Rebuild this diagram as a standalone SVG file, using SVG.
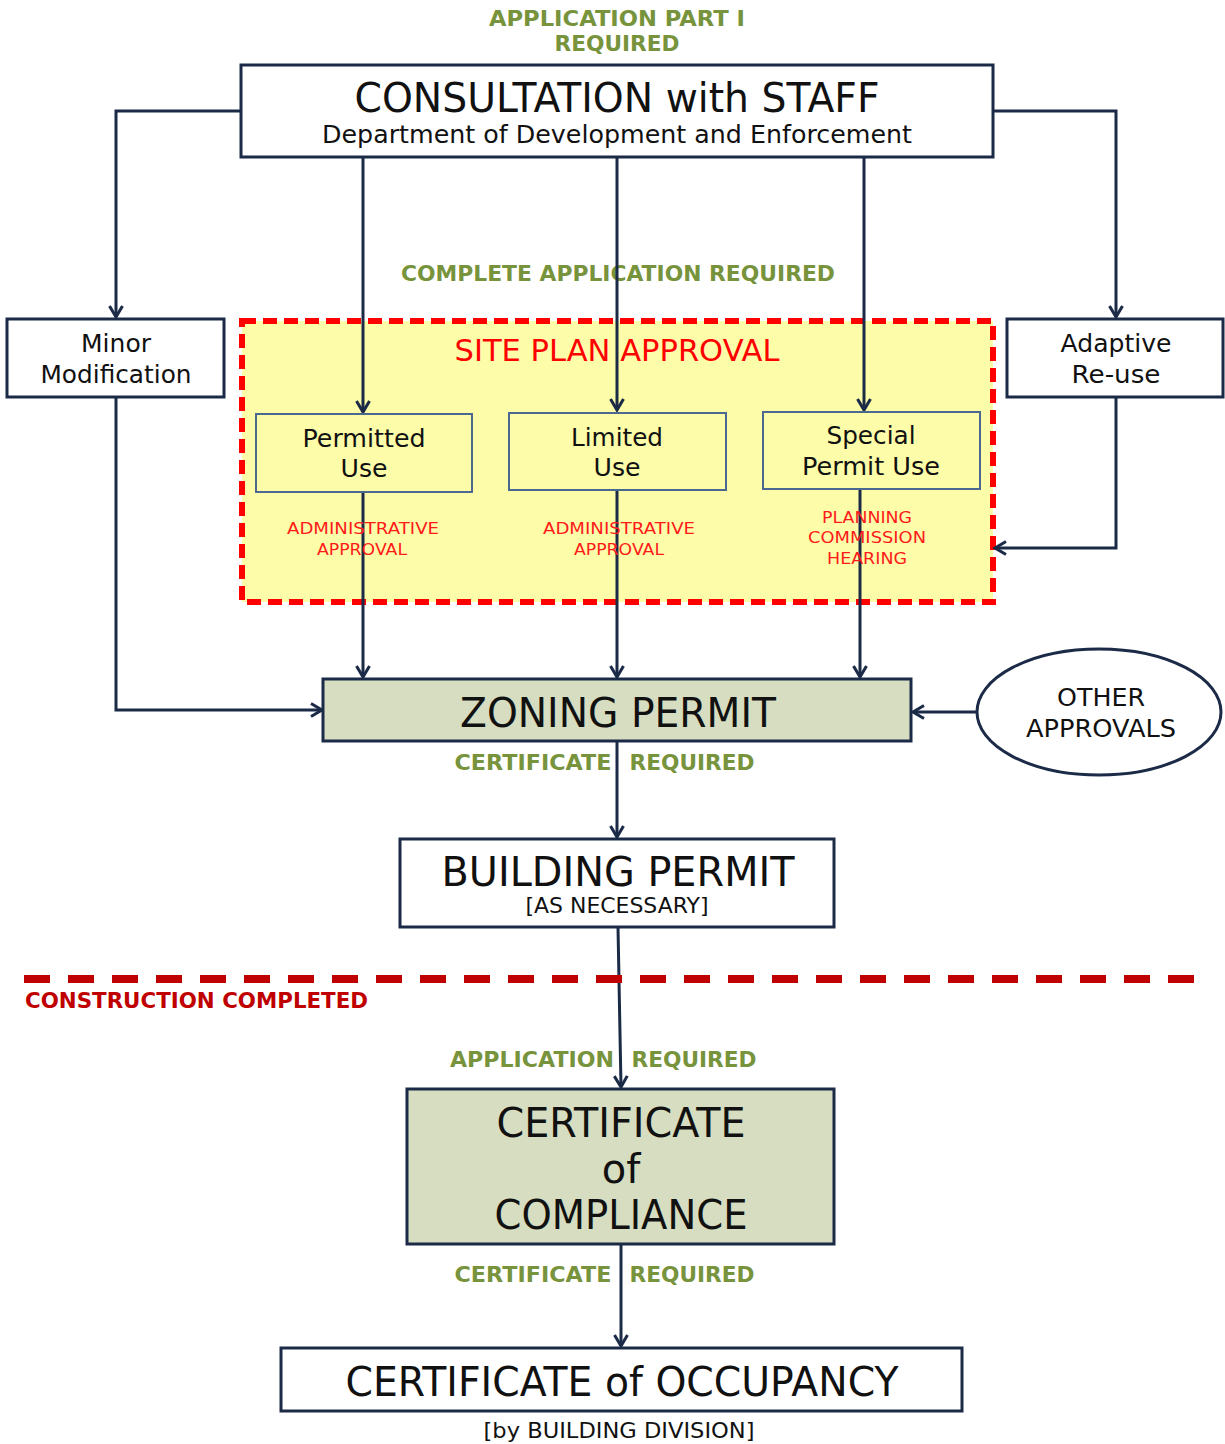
<svg xmlns="http://www.w3.org/2000/svg" width="1225" height="1444" viewBox="0 0 1225 1444">
<style>
text{font-family:"DejaVu Sans","Liberation Sans",sans-serif;text-anchor:middle;fill:#111}
.g{fill:#77933C;font-weight:bold;font-size:21px}
.box{fill:#fff;stroke:#1B2A47;stroke-width:3}
.zone{fill:#D6DDC0;stroke:#1B2A47;stroke-width:3}
.use{fill:#FDFCA8;stroke:#4A6890;stroke-width:2}
.big{font-size:40px}
.mid{font-size:25px}
.red{fill:#FF1A1A;font-size:16px}
.conn{fill:none;stroke:#1B2A47;stroke-width:3}
</style>
<defs>
<marker id="ah" markerUnits="userSpaceOnUse" markerWidth="16" markerHeight="16" refX="13" refY="8" orient="auto">
<path d="M2,1.5 L13,8 L2,14.5" fill="none" stroke="#1B2A47" stroke-width="3"/>
</marker>
</defs>

<text class="g" x="617" y="26" textLength="256" lengthAdjust="spacingAndGlyphs">APPLICATION PART I</text>
<text class="g" x="617" y="51" textLength="125" lengthAdjust="spacingAndGlyphs">REQUIRED</text>

<g id="site-plan">
<rect x="242" y="321" width="751" height="281" fill="#FDFCA8" stroke="#FF0000" stroke-width="6" stroke-dasharray="14 7"/>
<text x="617" y="361" style="fill:#FF0000;font-size:30px" textLength="325" lengthAdjust="spacingAndGlyphs">SITE PLAN APPROVAL</text>
</g>

<text class="g" x="618" y="281" textLength="434" lengthAdjust="spacingAndGlyphs">COMPLETE APPLICATION REQUIRED</text>

<g id="connectors">
<polyline class="conn" points="241,111 116,111 116,317" marker-end="url(#ah)"/>
<polyline class="conn" points="993,111 1116,111 1116,317" marker-end="url(#ah)"/>
<line class="conn" x1="363" y1="157" x2="363" y2="412" marker-end="url(#ah)"/>
<line class="conn" x1="617" y1="157" x2="617" y2="410" marker-end="url(#ah)"/>
<line class="conn" x1="864" y1="157" x2="864" y2="410" marker-end="url(#ah)"/>
<polyline class="conn" points="116,397 116,710 322,710" marker-end="url(#ah)"/>
<polyline class="conn" points="1116,397 1116,548 995,548" marker-end="url(#ah)"/>
<line class="conn" x1="363" y1="492" x2="363" y2="677" marker-end="url(#ah)"/>
<line class="conn" x1="617" y1="490" x2="617" y2="677" marker-end="url(#ah)"/>
<line class="conn" x1="860" y1="489" x2="860" y2="677" marker-end="url(#ah)"/>
<line class="conn" x1="977" y1="712" x2="913" y2="712" marker-end="url(#ah)"/>
<line class="conn" x1="617" y1="741" x2="617" y2="837" marker-end="url(#ah)"/>
<line class="conn" x1="618" y1="927" x2="621" y2="1087" marker-end="url(#ah)"/>
<line class="conn" x1="621" y1="1244" x2="621" y2="1346" marker-end="url(#ah)"/>
</g>

<g id="consultation">
<rect class="box" x="241" y="65" width="752" height="92"/>
<text x="617" y="112" style="font-size:41px" textLength="525" lengthAdjust="spacingAndGlyphs">CONSULTATION with STAFF</text>
<text x="617" y="143" style="font-size:25px" textLength="590" lengthAdjust="spacingAndGlyphs">Department of Development and Enforcement</text>
</g>

<g id="minor-modification">
<rect class="box" x="7" y="319" width="217" height="78"/>
<text class="mid" x="116" y="352" textLength="70" lengthAdjust="spacingAndGlyphs">Minor</text>
<text class="mid" x="116" y="383" textLength="151" lengthAdjust="spacingAndGlyphs">Modification</text>
</g>

<g id="adaptive-reuse">
<rect class="box" x="1007" y="319" width="216" height="78"/>
<text class="mid" x="1116" y="352" textLength="111" lengthAdjust="spacingAndGlyphs">Adaptive</text>
<text class="mid" x="1116" y="383" textLength="89" lengthAdjust="spacingAndGlyphs">Re-use</text>
</g>

<g id="permitted-use">
<rect class="use" x="256" y="414" width="216" height="78"/>
<text class="mid" x="364" y="447" textLength="123" lengthAdjust="spacingAndGlyphs">Permitted</text>
<text class="mid" x="364" y="477" textLength="47" lengthAdjust="spacingAndGlyphs">Use</text>
<text class="red" x="363" y="534" textLength="152" lengthAdjust="spacingAndGlyphs">ADMINISTRATIVE</text>
<text class="red" x="362" y="555" textLength="90" lengthAdjust="spacingAndGlyphs">APPROVAL</text>
</g>

<g id="limited-use">
<rect class="use" x="509" y="413" width="217" height="77"/>
<text class="mid" x="617" y="446" textLength="92" lengthAdjust="spacingAndGlyphs">Limited</text>
<text class="mid" x="617" y="476" textLength="47" lengthAdjust="spacingAndGlyphs">Use</text>
<text class="red" x="619" y="534" textLength="152" lengthAdjust="spacingAndGlyphs">ADMINISTRATIVE</text>
<text class="red" x="619" y="555" textLength="90" lengthAdjust="spacingAndGlyphs">APPROVAL</text>
</g>

<g id="special-permit-use">
<rect class="use" x="763" y="412" width="217" height="77"/>
<text class="mid" x="871" y="444" textLength="89" lengthAdjust="spacingAndGlyphs">Special</text>
<text class="mid" x="871" y="475" textLength="138" lengthAdjust="spacingAndGlyphs">Permit Use</text>
<text class="red" x="867" y="523" textLength="90" lengthAdjust="spacingAndGlyphs">PLANNING</text>
<text class="red" x="867" y="543" textLength="118" lengthAdjust="spacingAndGlyphs">COMMISSION</text>
<text class="red" x="867" y="564" textLength="80" lengthAdjust="spacingAndGlyphs">HEARING</text>
</g>

<g id="zoning-permit">
<rect class="zone" x="323" y="679" width="588" height="62"/>
<text class="big" x="618" y="727" textLength="316" lengthAdjust="spacingAndGlyphs">ZONING PERMIT</text>
</g>

<g id="other-approvals">
<ellipse cx="1099" cy="712" rx="122" ry="63" fill="#fff" stroke="#1B2A47" stroke-width="3"/>
<text class="mid" x="1101" y="706" textLength="88" lengthAdjust="spacingAndGlyphs">OTHER</text>
<text class="mid" x="1101" y="737" textLength="150" lengthAdjust="spacingAndGlyphs">APPROVALS</text>
</g>

<text class="g" x="533" y="770" textLength="157" lengthAdjust="spacingAndGlyphs">CERTIFICATE</text>
<text class="g" x="692" y="770" textLength="125" lengthAdjust="spacingAndGlyphs">REQUIRED</text>

<g id="building-permit">
<rect class="box" x="400" y="839" width="434" height="88"/>
<text class="big" x="618" y="886" textLength="353" lengthAdjust="spacingAndGlyphs">BUILDING PERMIT</text>
<text x="617" y="913" style="font-size:21px" textLength="183" lengthAdjust="spacingAndGlyphs">[AS NECESSARY]</text>
</g>

<g id="construction-completed">
<line x1="24" y1="979" x2="1202" y2="979" stroke="#C00000" stroke-width="8" stroke-dasharray="26 18"/>
<text x="25" y="1008" style="fill:#C00000;font-weight:bold;font-size:21px;text-anchor:start" textLength="343" lengthAdjust="spacingAndGlyphs">CONSTRUCTION COMPLETED</text>
</g>

<text class="g" x="532" y="1067" textLength="164" lengthAdjust="spacingAndGlyphs">APPLICATION</text>
<text class="g" x="694" y="1067" textLength="125" lengthAdjust="spacingAndGlyphs">REQUIRED</text>

<g id="certificate-of-compliance">
<rect class="zone" x="407" y="1089" width="427" height="155"/>
<text class="big" x="621" y="1137" textLength="249" lengthAdjust="spacingAndGlyphs">CERTIFICATE</text>
<text class="big" x="621" y="1183">of</text>
<text class="big" x="621" y="1229" textLength="253" lengthAdjust="spacingAndGlyphs">COMPLIANCE</text>
</g>

<text class="g" x="533" y="1282" textLength="157" lengthAdjust="spacingAndGlyphs">CERTIFICATE</text>
<text class="g" x="692" y="1282" textLength="125" lengthAdjust="spacingAndGlyphs">REQUIRED</text>

<g id="certificate-of-occupancy">
<rect class="box" x="281" y="1348" width="681" height="63"/>
<text class="big" x="622" y="1396" textLength="553" lengthAdjust="spacingAndGlyphs">CERTIFICATE of OCCUPANCY</text>
<text x="619" y="1438" style="font-size:22px" textLength="271" lengthAdjust="spacingAndGlyphs">[by BUILDING DIVISION]</text>
</g>
</svg>
